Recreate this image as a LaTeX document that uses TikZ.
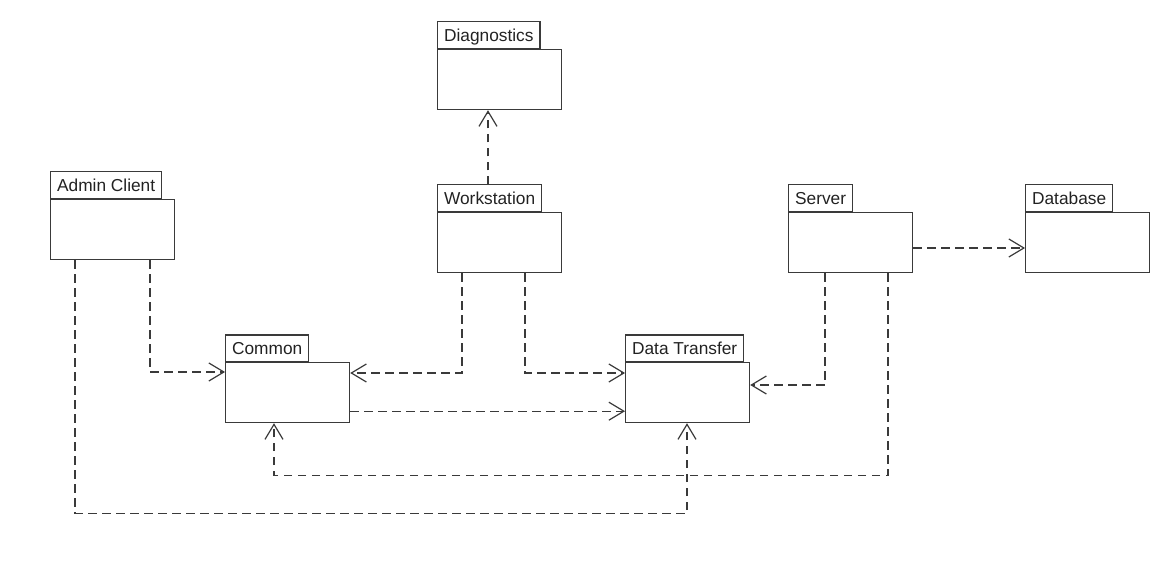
\documentclass[tikz,border=0pt]{standalone}
\usepackage{fontspec}
\setmainfont{Liberation Sans}
\usetikzlibrary{arrows.meta}
\definecolor{ln}{HTML}{3A3A3A}
\definecolor{txt}{HTML}{222222}
\begin{document}
\begin{tikzpicture}[x=1pt,y=1pt,
  body/.style={draw=ln, line width=1.2pt, minimum width=124pt, minimum height=60pt, anchor=north west, inner sep=0pt},
  tab/.style={draw=ln, line width=1.2pt, minimum height=26.5pt, anchor=south west, inner xsep=6.5pt, inner ysep=0pt, text height=12.5pt, text depth=0pt, font=\fontsize{17.3}{20}\selectfont, text=txt},
  dep/.style={draw=ln, line width=1.1pt, dash pattern=on 8.5pt off 5.5pt, -{Straight Barb[length=15pt,width=18pt,line width=1.2pt]}}]
\useasboundingbox (0,0) rectangle (1161,-569);
% packages
\node[body] (admin) at (50,-199) {};
\node[tab] (adminT) at (admin.north west) {Admin Client};
\node[body] (common) at (225,-362) {};
\node[tab] (commonT) at (common.north west) {Common};
\node[body] (diag) at (437,-49) {};
\node[tab] (diagT) at (diag.north west) {Diagnostics};
\node[body] (ws) at (437,-212) {};
\node[tab] (wsT) at (ws.north west) {Workstation};
\node[body] (dt) at (625,-362) {};
\node[tab] (dtT) at (dt.north west) {Data Transfer};
\node[body] (server) at (788,-212) {};
\node[tab] (serverT) at (server.north west) {Server};
\node[body] (db) at (1025,-212) {};
\node[tab] (dbT) at (db.north west) {Database};
% dependencies
\draw[dep] ([xshift=51pt]wsT.north west) -- ([xshift=51pt]diag.south west);
\draw[dep] ([xshift=100pt]admin.south west) |- ([yshift=-10pt]common.north west);
\draw[dep] ([xshift=25pt]admin.south west) -- ++(0,-253) -| ([xshift=62pt]dt.south west);
\draw[dep] ([xshift=25pt]ws.south west) |- ([yshift=-11pt]common.north east);
\draw[dep] ([xshift=88pt]ws.south west) |- ([yshift=-11pt]dt.north west);
\draw[dep] ([yshift=12pt]common.south east) -- ([yshift=12pt]dt.south west);
\draw[dep] ([xshift=37pt]server.south west) |- ([yshift=-23pt]dt.north east);
\draw[dep] ([xshift=100pt]server.south west) -- ++(0,-202) -| ([xshift=49pt]common.south west);
\draw[dep] ([yshift=-36pt]server.north east) -- ([yshift=-36pt]db.north west);
\end{tikzpicture}
\end{document}
